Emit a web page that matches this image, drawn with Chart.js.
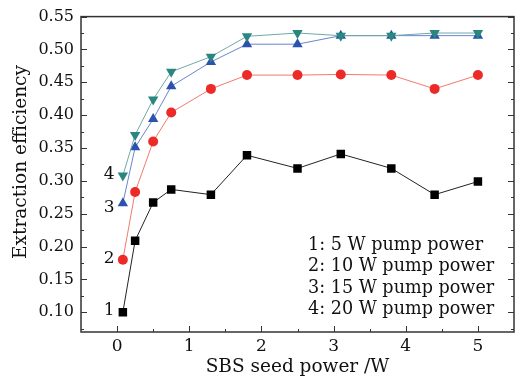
<!DOCTYPE html>
<html lang="en">
<head>
  <meta charset="UTF-8">
  <title>Extraction efficiency vs SBS seed power</title>
  <script src="https://cdn.jsdelivr.net/npm/chart.js"></script>
  <style>
    body { margin: 0; background: #fff; }
    .wrap { width: 525px; height: 378px; }
  </style>
</head>
<body>
  <div class="wrap"><canvas id="chart"></canvas></div>

  <script>
    // data
    const seedPower = [0.08, 0.25, 0.5, 0.75, 1.3, 1.8, 2.5, 3.1, 3.8, 4.4, 5.0];
    const pump5W  = [0.100, 0.209, 0.267, 0.287, 0.279, 0.339, 0.319, 0.341, 0.319, 0.279, 0.299];
    const pump10W = [0.180, 0.283, 0.360, 0.404, 0.440, 0.461, 0.461, 0.462, 0.461, 0.440, 0.461];
    const pump15W = [0.266, 0.351, 0.394, 0.444, 0.481, 0.508, 0.508, 0.521, 0.521, 0.521, 0.521];
    const pump20W = [0.308, 0.370, 0.424, 0.466, 0.489, 0.520, 0.525, 0.521, 0.521, 0.525, 0.525];
    const legendLines = ['1: 5 W pump power', '2: 10 W pump power', '3: 15 W pump power', '4: 20 W pump power'];
    const curveTags = ['1', '2', '3', '4'];
    const tagX = -0.11;
    const tagY = [0.102, 0.181, 0.260, 0.310];
    const yTicks = [0.10, 0.15, 0.20, 0.25, 0.30, 0.35, 0.40, 0.45, 0.50, 0.55];
    const xTicks = [0, 1, 2, 3, 4, 5];

    const serif = "'DejaVu Serif', serif";

    function pts(ys) {
      return seedPower.map((x, i) => ({ x: x, y: ys[i] }));
    }

    // frame, inward ticks, tags, legend text
    const decor = {
      id: 'decor',
      beforeDatasetsDraw(chart) {
        const { ctx, chartArea: a, scales: { x, y } } = chart;
        ctx.save();
        ctx.strokeStyle = '#333';
        ctx.lineWidth = 1;
        ctx.beginPath();
        // y ticks, major + minor, left and right
        for (let v = 0.075; v <= 0.5501; v += 0.025) {
          const py = Math.round(y.getPixelForValue(v)) + 0.5;
          const major = Math.abs(v / 0.05 - Math.round(v / 0.05)) < 1e-6;
          const len = major ? 6 : 3;
          ctx.moveTo(a.left, py); ctx.lineTo(a.left + len, py);
          ctx.moveTo(a.right, py); ctx.lineTo(a.right - len, py);
        }
        // x ticks
        for (let v = 0; v <= 5.01; v += 0.5) {
          const px = Math.round(x.getPixelForValue(v)) + 0.5;
          const len = Number.isInteger(v) ? 6 : 3;
          ctx.moveTo(px, a.bottom); ctx.lineTo(px, a.bottom - len);
        }
        ctx.stroke();
        ctx.lineWidth = 1.5;
        ctx.strokeRect(a.left, a.top, a.right - a.left, a.bottom - a.top);
        ctx.restore();
      },
      afterDraw(chart) {
        const { ctx, chartArea: a, scales: { x, y } } = chart;
        ctx.save();
        ctx.fillStyle = '#111';
        ctx.font = '17px ' + serif;
        ctx.textAlign = 'center';
        ctx.textBaseline = 'middle';
        curveTags.forEach((t, i) => {
          ctx.fillText(t, x.getPixelForValue(tagX), y.getPixelForValue(tagY[i]));
        });
        ctx.font = '17.6px ' + serif;
        ctx.textAlign = 'left';
        legendLines.forEach((t, i) => {
          ctx.fillText(t, a.left + 227, a.top + 229 + i * 21.3);
        });
        // y axis title
        ctx.font = '18.5px ' + serif;
        ctx.translate(21, 162);
        ctx.rotate(-Math.PI / 2);
        ctx.textAlign = 'center';
        ctx.fillText('Extraction efficiency', 0, 0);
        ctx.restore();
      }
    };

    new Chart(document.getElementById('chart'), {
      type: 'line',
      data: {
        datasets: [
          {
            label: '1: 5 W pump power', data: pts(pump5W), order: 3,
            borderColor: '#222', backgroundColor: '#000',
            pointStyle: 'rect', pointRadius: 6
          },
          {
            label: '2: 10 W pump power', data: pts(pump10W), order: 2,
            borderColor: '#f27a6a', backgroundColor: '#ec2a28',
            pointStyle: 'circle', pointRadius: 5
          },
          {
            label: '3: 15 W pump power', data: pts(pump15W), order: 1,
            borderColor: '#6a84cc', backgroundColor: '#2a52ae',
            pointStyle: 'triangle', pointRadius: 6
          },
          {
            label: '4: 20 W pump power', data: pts(pump20W), order: 0,
            borderColor: '#6fa9a6', backgroundColor: '#2a8780',
            pointStyle: 'triangle', pointRotation: 180, pointRadius: 6
          }
        ]
      },
      options: {
        responsive: true,
        maintainAspectRatio: false,
        animation: false,
        layout: { padding: { top: 14, right: 11 } },
        elements: {
          line: { borderWidth: 1, tension: 0 },
          point: { borderWidth: 0, hoverRadius: 6 }
        },
        plugins: {
          legend: { display: false },
          tooltip: { enabled: false }
        },
        scales: {
          x: {
            type: 'linear',
            min: -0.5,
            max: 5.5,
            afterBuildTicks: s => { s.ticks = xTicks.map(v => ({ value: v })); },
            afterFit: s => { s.height = 46; },
            grid: { display: false, drawTicks: false },
            border: { display: false },
            ticks: { color: '#111', padding: 4, font: { family: serif, size: 17 } },
            title: {
              display: true, text: 'SBS seed power /W', color: '#111',
              padding: { top: 0, bottom: 0 },
              font: { family: serif, size: 18.5 }
            }
          },
          y: {
            min: 0.07,
            max: 0.55,
            afterBuildTicks: s => { s.ticks = yTicks.map(v => ({ value: v })); },
            afterFit: s => { s.width = 81; },
            grid: { display: false, drawTicks: false },
            border: { display: false },
            ticks: {
              color: '#111', padding: 7,
              font: { family: serif, size: 16 },
              callback: v => v.toFixed(2)
            }
          }
        }
      },
      plugins: [decor]
    });
  </script>
</body>
</html>
